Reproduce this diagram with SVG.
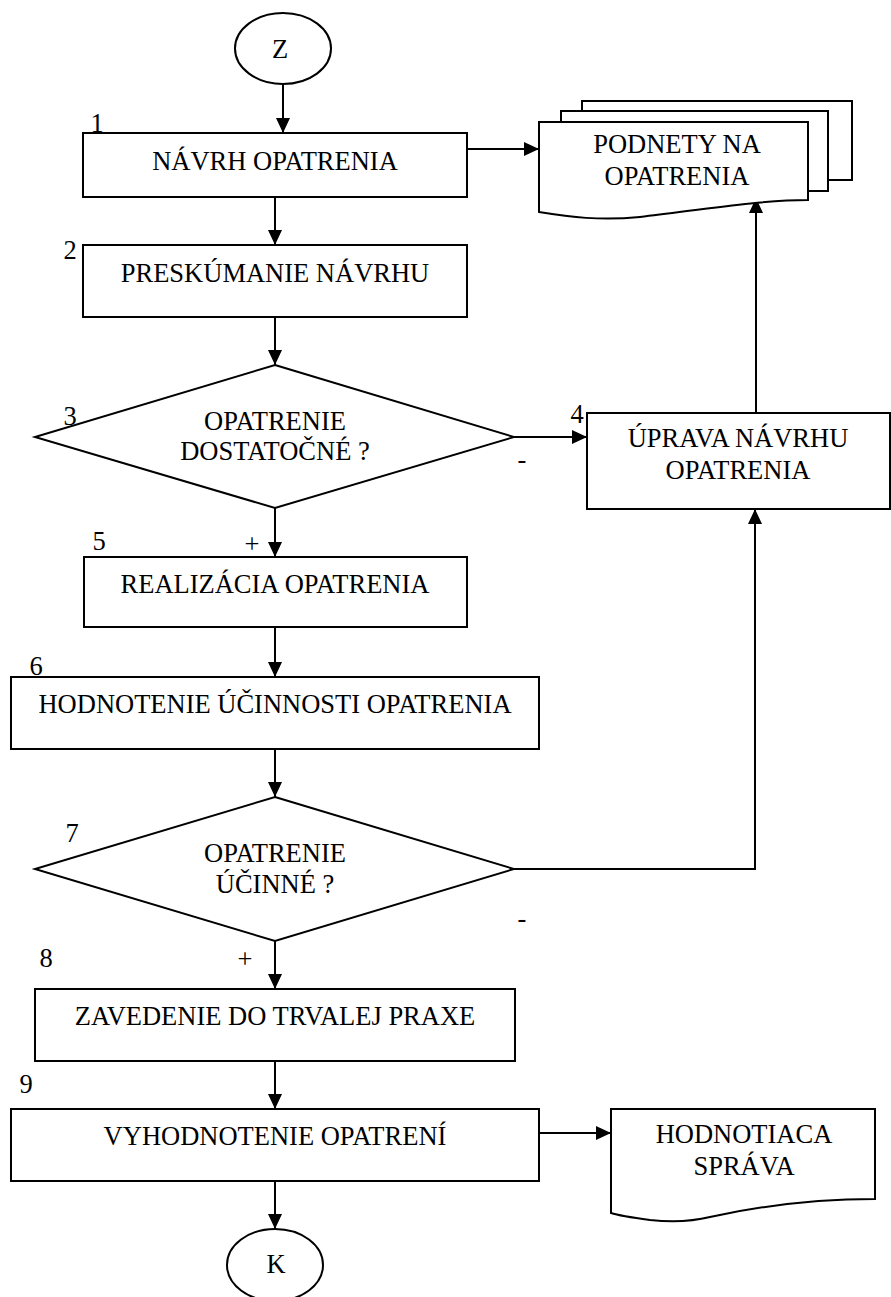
<svg xmlns="http://www.w3.org/2000/svg" width="891" height="1297" viewBox="0 0 891 1297">
<style>
.s{fill:#fff;stroke:#000;stroke-width:2}
.t{font-family:'Liberation Serif','DejaVu Serif',serif;font-size:26.5px;fill:#000;text-anchor:middle}
.c{fill:none;stroke:#000;stroke-width:2}
</style>
<defs>
<marker id="ah" markerWidth="15" markerHeight="14" refX="15" refY="7" orient="auto" markerUnits="userSpaceOnUse">
<path d="M0,0 L15,7 L0,14 Z" fill="#000"/>
</marker>
</defs>
<rect width="891" height="1297" fill="#fff"/>
<g id="connectors">
<path class="c" d="M283,84 V133" marker-end="url(#ah)"/>
<path class="c" d="M275,197 V245" marker-end="url(#ah)"/>
<path class="c" d="M467,149 H539" marker-end="url(#ah)"/>
<path class="c" d="M275,317 V365" marker-end="url(#ah)"/>
<path class="c" d="M514,437 H587" marker-end="url(#ah)"/>
<path class="c" d="M275,508 V557" marker-end="url(#ah)"/>
<path class="c" d="M756,413 V198" marker-end="url(#ah)"/>
<path class="c" d="M275,627 V677" marker-end="url(#ah)"/>
<path class="c" d="M275,749 V797" marker-end="url(#ah)"/>
<path class="c" d="M514,869 H755 V509" marker-end="url(#ah)"/>
<path class="c" d="M275,941 V989" marker-end="url(#ah)"/>
<path class="c" d="M275,1061 V1109" marker-end="url(#ah)"/>
<path class="c" d="M539,1133 H611" marker-end="url(#ah)"/>
<path class="c" d="M275,1181 V1229" marker-end="url(#ah)"/>
<text class="t" x="252" y="553" font-family="Liberation Serif, serif">+</text>
<text class="t" x="245" y="968" font-family="Liberation Serif, serif">+</text>
<text class="t" x="522" y="468" font-family="Liberation Serif, serif">-</text>
<text class="t" x="522" y="927" font-family="Liberation Serif, serif">-</text>
</g>
<g id="start">
<ellipse class="s" cx="283" cy="48.5" rx="48" ry="35.5" stroke-width="1.6"/>
<text class="t" x="280" y="58">Z</text>
</g>
<g id="n1">
<rect class="s" x="83" y="133" width="384" height="64"/>
<text class="t" x="275" y="170">NÁVRH OPATRENIA</text>
<text class="t" x="97" y="132">1</text>
</g>
<g id="podnety">
<rect class="s" x="582" y="101" width="270" height="79"/>
<rect class="s" x="561" y="111" width="267" height="80"/>
<path class="s" d="M539,122 H808 V200 C760,200 700,210 640,217 C600,221 570,217 539,212 Z"/>
<text class="t" x="677" y="153">PODNETY NA</text>
<text class="t" x="677" y="185">OPATRENIA</text>
</g>
<g id="n2">
<rect class="s" x="83" y="245" width="384" height="72"/>
<text class="t" x="275" y="282">PRESKÚMANIE NÁVRHU</text>
<text class="t" x="70" y="259">2</text>
</g>
<g id="n3">
<path class="s" d="M275,365 L514,437 L275,508 L35,437 Z"/>
<text class="t" x="275" y="430">OPATRENIE</text>
<text class="t" x="275" y="460">DOSTATOČNÉ ?</text>
<text class="t" x="70" y="425">3</text>
</g>
<g id="n4">
<rect class="s" x="587" y="413" width="303" height="96"/>
<text class="t" x="738" y="447">ÚPRAVA NÁVRHU</text>
<text class="t" x="738" y="479">OPATRENIA</text>
<text class="t" x="577" y="423">4</text>
</g>
<g id="n5">
<rect class="s" x="84" y="557" width="383" height="70"/>
<text class="t" x="275" y="593">REALIZÁCIA OPATRENIA</text>
<text class="t" x="99" y="550">5</text>
</g>
<g id="n6">
<rect class="s" x="11" y="677" width="528" height="72"/>
<text class="t" x="275" y="713">HODNOTENIE ÚČINNOSTI OPATRENIA</text>
<text class="t" x="36" y="675">6</text>
</g>
<g id="n7">
<path class="s" d="M275,797 L514,869 L275,941 L35,869 Z"/>
<text class="t" x="275" y="862">OPATRENIE</text>
<text class="t" x="275" y="893">ÚČINNÉ ?</text>
<text class="t" x="72" y="842">7</text>
</g>
<g id="n8">
<rect class="s" x="35" y="989" width="480" height="72"/>
<text class="t" x="275" y="1025">ZAVEDENIE DO TRVALEJ PRAXE</text>
<text class="t" x="46" y="967">8</text>
</g>
<g id="n9">
<rect class="s" x="11" y="1109" width="528" height="72"/>
<text class="t" x="275" y="1145">VYHODNOTENIE OPATRENÍ</text>
<text class="t" x="26" y="1093">9</text>
</g>
<g id="sprava">
<path class="s" d="M611,1109 H875 V1199 C820,1199 760,1206 710,1217 C690,1222 670,1222 650,1220 C635,1218 620,1216 611,1213 Z"/>
<text class="t" x="744" y="1143">HODNOTIACA</text>
<text class="t" x="744" y="1175">SPRÁVA</text>
</g>
<g id="end">
<ellipse class="s" cx="275" cy="1265" rx="48" ry="36" stroke-width="1.6"/>
<text class="t" x="276" y="1273">K</text>
</g>
</svg>
